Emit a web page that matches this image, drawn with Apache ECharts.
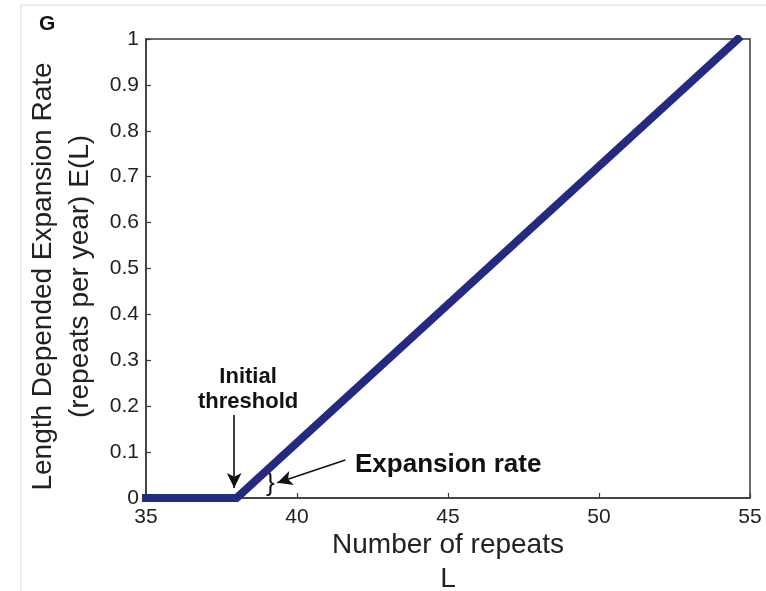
<!DOCTYPE html>
<html>
<head>
<meta charset="utf-8">
<script src="https://cdn.jsdelivr.net/npm/echarts@6/dist/echarts.min.js"></script>
<style>
  html, body { margin: 0; padding: 0; background: #ffffff; }
  #chart { width: 766px; height: 591px; }
</style>
</head>
<body>
<div id="chart"></div>
<script>
// Piecewise-linear expansion rate: flat until the threshold, then rising linearly
const repeats = [35, 38, 54.6];
const expansionRate = [0, 0, 1];

// Axis ranges and tick steps
const xRange = [35, 55];
const xStep = 5;
const yRange = [0, 1];
const yStep = 0.1;

// Annotation anchors, in data units
const thresholdArrow = [[37.92, 0.181], [37.92, 0.022]];
const rateArrow = [[41.6, 0.083], [39.35, 0.033]];
const thresholdLabelAt = [38.38, 0.236];
const rateLabelAt = [41.92, 0.072];
const braceAt = [39.12, 0.002];

const FONT = '"Liberation Sans", Arial, Helvetica, sans-serif';
const chart = echarts.init(document.getElementById('chart'), null, { renderer: 'canvas' });

const option = {
  animation: false,
  backgroundColor: '#ffffff',
  grid: {
    left: 146, right: 16, top: 39, bottom: 93,
    outerBoundsMode: 'none', containLabel: false,
    show: true, borderColor: '#3a3a3a', borderWidth: 1.5, backgroundColor: 'transparent'
  },
  xAxis: {
    type: 'value', min: xRange[0], max: xRange[1], interval: xStep,
    name: 'Number of repeats\nL', nameLocation: 'middle', nameGap: 30, nameMoveOverlap: false,
    nameTextStyle: { fontFamily: FONT, fontSize: 28, color: '#222', lineHeight: 34 },
    axisLine: { show: true, lineStyle: { color: '#3a3a3a', width: 1.5 } },
    axisTick: { show: true, inside: true, length: 5, lineStyle: { color: '#3a3a3a', width: 1.2 } },
    axisLabel: { fontFamily: FONT, fontSize: 21, color: '#222', margin: 9 },
    splitLine: { show: false }
  },
  yAxis: {
    type: 'value', min: yRange[0], max: yRange[1], interval: yStep,
    name: 'Length Depended Expansion Rate\n(repeats per year) E(L)',
    nameLocation: 'middle', nameGap: 47, nameRotate: 90,
    nameTextStyle: { fontFamily: FONT, fontSize: 28, color: '#222', lineHeight: 37, padding: [0, 16, 0, 0] },
    axisLine: { show: true, lineStyle: { color: '#3a3a3a', width: 1.5 } },
    axisTick: { show: true, inside: true, length: 5, lineStyle: { color: '#3a3a3a', width: 1.2 } },
    axisLabel: {
      fontFamily: FONT, fontSize: 21, color: '#222', margin: 7,
      formatter: v => String(Math.round(v * 10) / 10)
    },
    splitLine: { show: false }
  },
  series: [{
    type: 'line',
    data: repeats.map((x, i) => [x, expansionRate[i]]),
    showSymbol: false,
    symbol: 'none',
    lineStyle: { color: '#232a80', width: 8, cap: 'square', join: 'miter' },
    z: 3,
    markLine: {
      silent: true,
      symbol: ['none', 'arrow'],
      symbolSize: [11, 15],
      label: { show: false },
      lineStyle: { color: '#111', width: 1.6, type: 'solid' },
      data: [
        [{ coord: thresholdArrow[0] }, { coord: thresholdArrow[1] }],
        [{ coord: rateArrow[0] }, { coord: rateArrow[1] }]
      ]
    }
  }]
};
chart.setOption(option);

// Text annotations placed at data positions
const px = p => chart.convertToPixel({ gridIndex: 0 }, p);
const tPos = px(thresholdLabelAt);
const rPos = px(rateLabelAt);
const bPos = px(braceAt);

chart.setOption({
  graphic: [
    { type: 'line', shape: { x1: 21, y1: 5, x2: 766, y2: 5 }, style: { stroke: '#ececec', lineWidth: 2 }, silent: true },
    { type: 'line', shape: { x1: 21, y1: 5, x2: 21, y2: 591 }, style: { stroke: '#ececec', lineWidth: 2 }, silent: true },
    {
      type: 'text', left: 39, top: 14,
      style: { text: 'G', font: 'bold 21px ' + FONT, fill: '#111' }
    },
    {
      type: 'text', x: tPos[0], y: tPos[1],
      style: {
        text: 'Initial\nthreshold', font: 'bold 22px ' + FONT, fill: '#111',
        align: 'center', verticalAlign: 'middle', lineHeight: 25
      }
    },
    {
      type: 'text', x: rPos[0], y: rPos[1],
      style: {
        text: 'Expansion rate', font: 'bold 26px ' + FONT, fill: '#111',
        align: 'left', verticalAlign: 'middle'
      }
    },
    {
      type: 'text', x: bPos[0], y: bPos[1],
      style: {
        text: '}', font: '26px ' + FONT, fill: '#111',
        align: 'center', verticalAlign: 'bottom'
      }
    }
  ]
});
</script>
</body>
</html>
